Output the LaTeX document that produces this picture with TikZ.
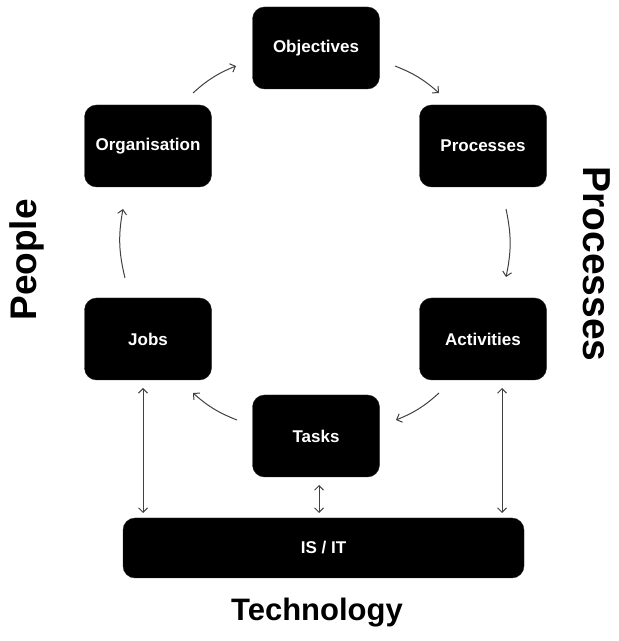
\documentclass[tikz,border=0pt]{standalone}
\usepackage{fontspec}
\setmainfont{Liberation Sans}
\usetikzlibrary{arrows.meta}
\begin{document}
\begin{tikzpicture}[x=1pt,y=1pt,
  box/.style={draw=black!85,fill=black,rounded corners=12pt,minimum width=127pt,minimum height=82pt,text=white,font=\fontsize{17}{19}\selectfont\bfseries,inner sep=0pt},
  conn/.style={draw=black!75,line width=1pt,-{Straight Barb[length=4.5pt,width=9pt]}},
  dconn/.style={draw=black!75,line width=1pt,{Straight Barb[length=4.5pt,width=9pt]}-{Straight Barb[length=4.5pt,width=9pt]}},
  side/.style={font=\fontsize{37}{40}\selectfont\bfseries}]
\useasboundingbox (0,0) rectangle (619,641);
\node[box] (obj) at (316,593) {Objectives};
\node[box] (org) at (148,495) {Organisation};
\node[box] (proc) at (483,495) {Processes};
\node[box] (jobs) at (148,302) {Jobs};
\node[box] (act) at (483,302) {Activities};
\node[box] (tasks) at (316,205) {Tasks};
\node[box,minimum width=401pt,minimum height=60pt] (isit) at (323.5,93) {IS / IT};
\node[side,rotate=90] (people) at (27,381) {People};
\node[side,rotate=-90,font=\fontsize{39}{42}\selectfont\bfseries] (procl) at (597,377) {Processes};
\node[side,font=\fontsize{31}{34}\selectfont\bfseries] (tech) at (317,28) {Technology};
% connector end points
\coordinate (a1s) at (193,548); \coordinate (a1e) at (236,575);
\coordinate (a2s) at (395,575); \coordinate (a2e) at (439,548);
\coordinate (a3s) at (506,432); \coordinate (a3e) at (506,364);
\coordinate (a5s) at (439,248); \coordinate (a5e) at (396,221);
\coordinate (a6s) at (237,221); \coordinate (a6e) at (193,248);
\coordinate (a4s) at (125,363); \coordinate (a4e) at (123,432);
\coordinate (d1s) at (143,253); \coordinate (d1e) at (143,128);
\coordinate (d2s) at (502,253); \coordinate (d2e) at (502,128);
\coordinate (d3s) at (319,156); \coordinate (d3e) at (319,128);
\draw[conn] (a1s) to[bend left=10] (a1e);
\draw[conn] (a2s) to[bend left=10] (a2e);
\draw[conn] (a3s) to[bend left=12] (a3e);
\draw[conn] (a5s) to[bend left=10] (a5e);
\draw[conn] (a6s) to[bend left=10] (a6e);
\draw[conn] (a4s) to[bend left=12] (a4e);
\draw[dconn] (d1s) -- (d1e);
\draw[dconn] (d2s) -- (d2e);
\draw[dconn] (d3s) -- (d3e);
\end{tikzpicture}
\end{document}
